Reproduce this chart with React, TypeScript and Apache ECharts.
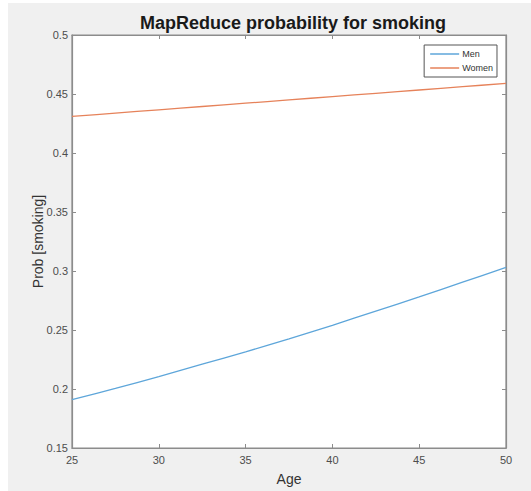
import React, { useEffect, useRef } from "react";
import * as echarts from "echarts";

// Age grid (years) and estimated smoking probabilities per group
const ages = [25, 27.5, 30, 32.5, 35, 37.5, 40, 42.5, 45, 47.5, 50];
const menProb = [0.191, 0.2005, 0.2105, 0.221, 0.2315, 0.2425, 0.254, 0.266, 0.278, 0.2905, 0.303];
const womenProb = [0.431, 0.4338, 0.4366, 0.4394, 0.4422, 0.445, 0.4478, 0.4506, 0.4534, 0.4562, 0.459];
const ageTicks = { min: 25, max: 50, step: 5 };
const probTicks = { min: 0.15, max: 0.5, step: 0.05 };

const FONT = "'Liberation Sans', Arial, Helvetica, sans-serif";

export default function App() {
  const ref = useRef<HTMLDivElement>(null);

  useEffect(() => {
    if (!ref.current) return;
    const chart = echarts.init(ref.current, null, { renderer: "svg" });
    const pairs = (ys: number[]) => ages.map((a, i) => [a, ys[i]]);
    const fmt = (v: number) => String(+v.toFixed(2));
    const axisLine = { show: true, lineStyle: { color: "#8c8c8c", width: 1.2 } };
    const tick = { show: true, inside: true, length: 4, lineStyle: { color: "#8c8c8c" } };

    chart.setOption({
      animation: false,
      backgroundColor: "#ffffff",
      textStyle: { fontFamily: FONT },
      graphic: [
        {
          type: "rect",
          z: -10,
          silent: true,
          shape: { x: 8, y: 3, width: 523, height: 488 },
          style: { fill: "#f0f0f0" },
        },
      ],
      title: {
        text: "MapReduce probability for smoking",
        left: 288,
        textAlign: "center",
        top: 9,
        textStyle: { fontSize: 18, fontWeight: "bold", color: "#1a1a1a", fontFamily: FONT },
      },
      legend: {
        orient: "vertical",
        right: 34,
        top: 45,
        icon: "rect",
        itemWidth: 29,
        itemHeight: 1.5,
        itemGap: 2,
        padding: [3, 4, 3, 6],
        backgroundColor: "#ffffff",
        borderColor: "#555555",
        borderWidth: 1,
        textStyle: { fontSize: 9, lineHeight: 12, color: "#333333", fontFamily: FONT, padding: [0, 0, 0, -2] },
        data: ["Men", "Women"],
      },
      grid: {
        left: 72,
        right: 25,
        top: 35,
        bottom: 42,
        show: true,
        backgroundColor: "#ffffff",
        borderColor: "#8c8c8c",
        borderWidth: 1.2,
      },
      xAxis: [
        {
          type: "value",
          min: ageTicks.min,
          max: ageTicks.max,
          interval: ageTicks.step,
          name: "Age",
          nameLocation: "middle",
          nameGap: 24,
          nameMoveOverlap: false,
          nameTextStyle: { fontSize: 14, color: "#333333", fontFamily: FONT },
          axisLine,
          axisTick: tick,
          splitLine: { show: false },
          axisLabel: { fontSize: 11, color: "#4d4d4d", margin: 6, fontFamily: FONT },
        },
        {
          type: "value",
          position: "top",
          min: ageTicks.min,
          max: ageTicks.max,
          interval: ageTicks.step,
          axisLine,
          axisTick: tick,
          splitLine: { show: false },
          axisLabel: { show: false },
        },
      ],
      yAxis: [
        {
          type: "value",
          min: probTicks.min,
          max: probTicks.max,
          interval: probTicks.step,
          name: "Prob [smoking]",
          nameLocation: "middle",
          nameGap: 27,
          nameMoveOverlap: false,
          nameTextStyle: { fontSize: 14, color: "#333333", fontFamily: FONT },
          axisLine,
          axisTick: tick,
          splitLine: { show: false },
          axisLabel: { fontSize: 11, color: "#4d4d4d", margin: 4, formatter: fmt, fontFamily: FONT },
        },
        {
          type: "value",
          position: "right",
          min: probTicks.min,
          max: probTicks.max,
          interval: probTicks.step,
          axisLine,
          axisTick: tick,
          splitLine: { show: false },
          axisLabel: { show: false },
        },
      ],
      series: [
        {
          name: "Men",
          type: "line",
          data: pairs(menProb),
          smooth: 0.3,
          symbol: "none",
          color: "#5ea6da",
          lineStyle: { width: 1.3, color: "#5ea6da" },
        },
        {
          name: "Women",
          type: "line",
          data: pairs(womenProb),
          smooth: 0.3,
          symbol: "none",
          color: "#e6825a",
          lineStyle: { width: 1.3, color: "#e6825a" },
        },
      ],
    });
    return () => chart.dispose();
  }, []);

  return (
    <div style={{ position: "absolute", left: 0, top: 0, width: 531, height: 491 }}>
      <div ref={ref} style={{ width: 531, height: 491 }} />
    </div>
  );
}
